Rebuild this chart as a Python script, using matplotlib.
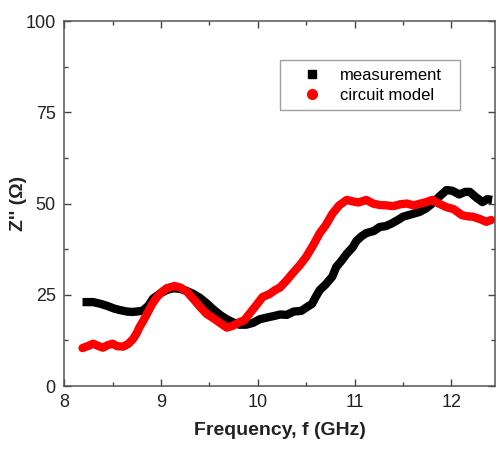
import numpy as np
import matplotlib.pyplot as plt
from matplotlib.ticker import MultipleLocator

plt.rcParams['font.family'] = ['Liberation Sans', 'DejaVu Sans']

# measured Z'' versus frequency
f_meas = [8.19, 8.30, 8.38, 8.44, 8.52, 8.58, 8.65, 8.71, 8.81, 8.87, 8.92, 9.00,
          9.06, 9.13, 9.20, 9.27, 9.33, 9.40, 9.47, 9.54, 9.61, 9.68, 9.74, 9.81,
          9.88, 9.95, 10.02, 10.10, 10.17, 10.23, 10.30, 10.37, 10.45, 10.50, 10.56,
          10.60, 10.64, 10.70, 10.77, 10.81, 10.87, 10.92, 10.98, 11.02, 11.07, 11.12,
          11.20, 11.26, 11.32, 11.38, 11.46, 11.50, 11.58, 11.67, 11.74, 11.80, 11.87,
          11.95, 12.01, 12.08, 12.14, 12.19, 12.25, 12.32, 12.37, 12.42]
z_meas = [23.0, 23.0, 22.5, 22.0, 21.2, 20.8, 20.4, 20.3, 20.6, 22.0, 24.0, 25.5,
          26.3, 26.8, 26.6, 26.0, 25.3, 24.2, 22.7, 21.0, 19.5, 18.3, 17.5, 16.8,
          16.8, 17.3, 18.3, 18.8, 19.2, 19.6, 19.5, 20.4, 20.6, 21.5, 22.5,
          24.5, 26.3, 27.8, 30.0, 32.6, 34.5, 36.3, 38.0, 39.8, 41.0, 41.9,
          42.5, 43.6, 43.8, 44.5, 45.7, 46.4, 47.0, 47.7, 48.7, 50.0, 51.8,
          53.7, 53.5, 52.5, 53.2, 53.2, 51.8, 50.4, 51.2, 51.0]

# circuit model Z''
f_model = [8.19, 8.25, 8.30, 8.35, 8.40, 8.45, 8.50, 8.55, 8.61, 8.66, 8.71, 8.75,
           8.78, 8.82, 8.86, 8.91, 8.96, 9.01, 9.06, 9.14, 9.20, 9.27, 9.33, 9.40,
           9.47, 9.54, 9.61, 9.68, 9.74, 9.81, 9.86, 9.92, 9.98, 10.05, 10.12, 10.18,
           10.23, 10.30, 10.36, 10.43, 10.50, 10.57, 10.64, 10.70, 10.77, 10.84, 10.92,
           10.98, 11.04, 11.12, 11.19, 11.26, 11.33, 11.40, 11.47, 11.54, 11.61, 11.68,
           11.74, 11.80, 11.87, 11.95, 12.02, 12.11, 12.17, 12.22, 12.29, 12.36, 12.41]
z_model = [10.4, 11.0, 11.6, 11.0, 10.5, 11.2, 11.6, 10.9, 10.8, 11.5, 12.8, 14.5,
           16.2, 18.0, 20.0, 22.5, 24.4, 25.8, 26.8, 27.4, 27.0, 25.8, 24.0, 21.8,
           19.8, 18.6, 17.3, 16.0, 16.5, 17.5, 18.0, 20.0, 22.0, 24.4, 25.2, 26.3,
           27.0, 29.0, 30.9, 33.0, 35.4, 38.5, 41.9, 44.0, 47.2, 49.5, 51.0,
           50.6, 50.3, 51.0, 50.0, 49.6, 49.5, 49.3, 49.8, 50.0, 49.5, 50.0,
           50.4, 51.0, 50.0, 49.0, 48.5, 46.8, 46.5, 46.4, 45.8, 45.0, 45.5]

fig = plt.figure(figsize=(4.97, 4.59), dpi=100)
ax = fig.add_axes([0.129, 0.159, 0.867, 0.795])

ax.plot(f_meas, z_meas, color='black', lw=6, solid_capstyle='butt', solid_joinstyle='round')
ax.plot(f_model, z_model, color='#ff0000', lw=6, solid_capstyle='round', solid_joinstyle='round')

# legend handles: marker only
ax.plot([], [], 's', color='black', ms=6, label='measurement')
ax.plot([], [], 'o', color='#ff0000', ms=7, label='circuit model')
handles, labels = ax.get_legend_handles_labels()
leg = ax.legend(handles, labels, loc='upper left', mode='expand',
                bbox_to_anchor=(0.501, 0.756, 0.418, 0.137),
                fontsize=12, frameon=True, fancybox=False, edgecolor='#888888',
                handlelength=3.0, handletextpad=0.15, borderpad=0.45,
                labelspacing=0.3, borderaxespad=0)
leg.get_frame().set_linewidth(1.0)

ax.set_xlim(8, 12.45)
ax.set_ylim(0, 100)
ax.xaxis.set_major_locator(MultipleLocator(1))
ax.xaxis.set_minor_locator(MultipleLocator(0.5))
ax.yaxis.set_major_locator(MultipleLocator(25))
ax.yaxis.set_minor_locator(MultipleLocator(12.5))
ax.tick_params(which='both', direction='in', top=True, right=True, colors='#444444',
               labelcolor='#222222', labelsize=13, pad=6)
ax.tick_params(which='major', length=5, width=1)
ax.tick_params(which='minor', length=3, width=1)
for s in ax.spines.values():
    s.set_color('#555555')
    s.set_linewidth(1.1)

ax.set_xlabel('Frequency, f (GHz)', fontsize=14, fontweight='bold', color='#222222', labelpad=8)
ax.set_ylabel("Z'' (\u03a9)", fontsize=14, fontweight='bold', color='#222222')
ax.yaxis.set_label_coords(-0.085, 0.5)

fig.savefig('out.png', dpi=100)
